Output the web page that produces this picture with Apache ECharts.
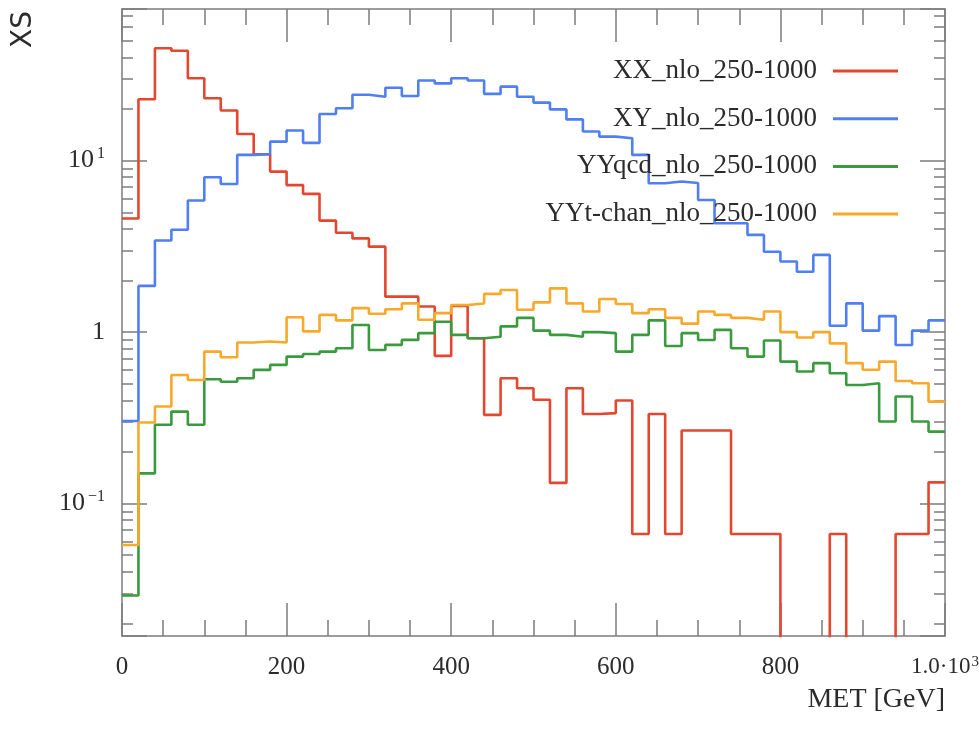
<!DOCTYPE html>
<html>
<head>
<meta charset="utf-8">
<title>MET</title>
<script src="https://cdn.jsdelivr.net/npm/echarts@6/dist/echarts.min.js"></script>
<style>
    html, body { margin: 0; padding: 0; background: #fff; }
    #chart { width: 979px; height: 730px; }
</style>
</head>
<body>
<div id="chart"></div>
<script>
// binning of the MET histogram (GeV)
var binWidth = 20;

var seriesNames = ['XX_nlo_250-1000', 'XY_nlo_250-1000', 'YYqcd_nlo_250-1000', 'YYt-chan_nlo_250-1000'];
var seriesColors = ['#e4472f', '#4f7ff2', '#3a9a3e', '#f7a92a'];

// XS per bin, 50 bins of 20 GeV; 0 = empty bin
var xxValues = [4.6, 22.8, 45.2, 43.7, 30.2, 23.1, 19.6, 14.3, 10.9, 8.63,
                7.2, 6.4, 4.47, 3.8, 3.52, 3.15, 1.61, 1.61, 1.41, 0.727,
                1.42, 0.921, 0.329, 0.538, 0.471, 0.403, 0.132, 0.471, 0.333, 0.337,
                0.399, 0.0665, 0.333, 0.0665, 0.267, 0.267, 0.267, 0.0665, 0.0665, 0.0665,
                0, 0, 0, 0.0665, 0, 0, 0, 0.0665, 0.0665, 0.133];
var xyValues = [0.303, 1.86, 3.42, 3.95, 5.85, 8.0, 7.3, 10.8, 10.9, 12.9,
                15.0, 12.7, 18.7, 20.2, 24.2, 23.6, 26.6, 23.8, 29.3, 28.2,
                30.2, 29.3, 24.5, 27.0, 23.6, 21.8, 19.9, 17.4, 14.8, 13.8,
                13.5, 10.8, 7.38, 7.55, 7.4, 5.9, 4.31, 4.31, 3.69, 2.94,
                2.58, 2.25, 2.82, 1.09, 1.47, 1.02, 1.24, 0.841, 1.02, 1.17];
var yyQcdValues = [0.0291, 0.150, 0.288, 0.344, 0.288, 0.531, 0.514, 0.538, 0.602, 0.644,
                   0.720, 0.746, 0.769, 0.805, 1.10, 0.787, 0.842, 0.901, 0.986, 1.15,
                   0.964, 0.921, 0.94, 1.08, 1.21, 1.02, 0.964, 0.94, 1.0, 0.986,
                   0.769, 0.964, 1.17, 0.83, 0.986, 0.90, 1.03, 0.805, 0.72, 0.893,
                   0.673, 0.589, 0.659, 0.576, 0.492, 0.503, 0.301, 0.421, 0.301, 0.263];
var yyTchanValues = [0.0574, 0.297, 0.368, 0.562, 0.526, 0.769, 0.714, 0.869, 0.881, 0.869,
                     1.22, 1.01, 1.26, 1.17, 1.38, 1.28, 1.36, 1.47, 1.18, 1.29,
                     1.44, 1.47, 1.67, 1.76, 1.35, 1.49, 1.80, 1.47, 1.32, 1.56,
                     1.46, 1.29, 1.36, 1.21, 1.12, 1.32, 1.26, 1.21, 1.18, 1.32,
                     1.0, 0.93, 1.0, 0.86, 0.659, 0.603, 0.673, 0.519, 0.503, 0.393];

// axes
var xMin = 0, xMax = 1000, xInterval = 200;
var yMin = 0.0169, yMax = 76.6;
var yTickLabels = {'10': '{b|10}{s|1}', '1': '{b|1}', '0.1': '{b|10}{s|\u22121}'};
var xLastLabel = '{m|1.0\u00b710}{ms|3}';

var serif = '"Liberation Serif", "DejaVu Serif", serif';
var frameColor = '#7c7c7c';
var textColor = '#2b2b2b';

// histogram -> step points, empty bins pushed below the axis
function toSteps(values) {
    var pts = [];
    for (var i = 0; i < values.length; i++) {
        pts.push([i * binWidth, values[i] > 0 ? values[i] : 1e-4]);
    }
    pts.push([values.length * binWidth, pts[pts.length - 1][1]]);
    return pts;
}

function xAxisDef(pos, withLabels) {
    return {
        type: 'value', position: pos, min: xMin, max: xMax, interval: xInterval,
        axisLine: {show: true, onZero: false, lineStyle: {color: frameColor, width: 1.5}},
        axisTick: {inside: true, length: 33, lineStyle: {color: frameColor, width: 1.5}},
        minorTick: {show: true, splitNumber: 4, length: 16, lineStyle: {color: frameColor, width: 1.5}},
        splitLine: {show: false},
        axisLabel: {
            show: withLabels, margin: 19, color: textColor, fontFamily: serif, fontSize: 25,
            formatter: function (v) { return v === xMax ? xLastLabel : String(v); },
            rich: {
                m: {fontFamily: serif, fontSize: 23, color: textColor},
                ms: {fontFamily: serif, fontSize: 15, color: textColor, verticalAlign: 'top', padding: [0, 0, 8, 1]}
            }
        }
    };
}

function yAxisDef(pos, withLabels) {
    return {
        type: 'log', logBase: 10, position: pos, min: yMin, max: yMax,
        axisLine: {show: true, onZero: false, lineStyle: {color: frameColor, width: 1.5}},
        axisTick: {inside: true, length: 25, lineStyle: {color: frameColor, width: 1.5}},
        minorTick: {show: true, splitNumber: 9, length: 11, lineStyle: {color: frameColor, width: 1.5}},
        splitLine: {show: false},
        axisLabel: {
            show: withLabels, margin: 17, color: textColor,
            formatter: function (v) {
                var key = String(+v.toPrecision(3));
                return yTickLabels[key] || '';
            },
            rich: {
                b: {fontFamily: serif, fontSize: 26, color: textColor, lineHeight: 30},
                s: {fontFamily: serif, fontSize: 16, color: textColor, verticalAlign: 'top', padding: [0, 0, 12, 3]}
            }
        }
    };
}

var chart = echarts.init(document.getElementById('chart'));

var allValues = [xxValues, xyValues, yyQcdValues, yyTchanValues];
var series = [];
for (var k = 0; k < seriesNames.length; k++) {
    series.push({
        name: seriesNames[k],
        type: 'line',
        step: 'end',
        showSymbol: false,
        symbol: 'none',
        clip: true,
        color: seriesColors[k],
        lineStyle: {width: 2.6, color: seriesColors[k]},
        data: toSteps(allValues[k])
    });
}

var bottomX = xAxisDef('bottom', true);
bottomX.name = 'MET [GeV]';
bottomX.nameLocation = 'end';
bottomX.nameGap = 0;
bottomX.nameTextStyle = {fontFamily: serif, fontSize: 28, color: textColor, align: 'right', verticalAlign: 'top', padding: [50, 0, 0, 0]};

var option = {
    animation: false,
    backgroundColor: '#fff',
    grid: {left: 122, right: 34, top: 9, bottom: 94, containLabel: false, outerBoundsMode: 'none'},
    legend: {
        data: seriesNames,
        orient: 'vertical',
        right: 76,
        top: 51,
        align: 'right',
        icon: 'rect',
        itemWidth: 65,
        itemHeight: 3,
        itemGap: 17.7,
        textStyle: {fontFamily: serif, fontSize: 27, color: textColor, lineHeight: 30, padding: [0, 11, 0, 0]}
    },
    graphic: [{
        type: 'text', left: 10, top: 11, rotation: Math.PI / 2,
        style: {text: 'XS', fontFamily: '"DejaVu Sans", sans-serif', fontSize: 28, fill: textColor}
    }],
    xAxis: [bottomX, xAxisDef('top', false)],
    yAxis: [yAxisDef('left', true), yAxisDef('right', false)],
    series: series
};

chart.setOption(option);
</script>
</body>
</html>
